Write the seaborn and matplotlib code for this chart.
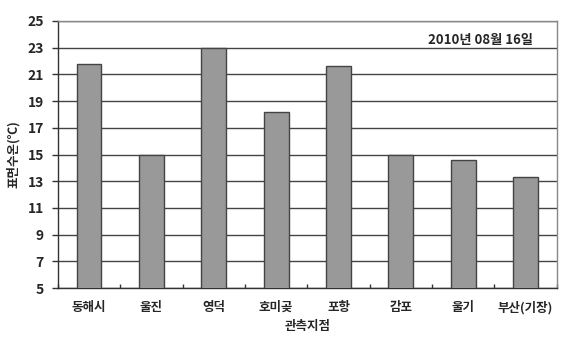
import matplotlib
matplotlib.use("Agg")
import matplotlib.pyplot as plt
import seaborn as sns
import pandas as pd
from matplotlib.ticker import MultipleLocator

stations = ["동해시", "울진", "영덕", "호미곶", "포항", "감포", "울기", "부산(기장)"]
temps = [21.8, 15.0, 23.0, 18.2, 21.6, 15.0, 14.6, 13.3]
yticks = [5, 7, 9, 11, 13, 15, 17, 19, 21, 23, 25]
date_label = "2010년 08월 16일"

sns.set_theme(style="white")
plt.rcParams['font.family'] = ['Noto Sans CJK KR', 'DejaVu Sans']

df = pd.DataFrame({"station": stations, "temp": temps})

fig = plt.figure(figsize=(5.67, 3.43), dpi=100)
ax = fig.add_axes([0.102, 0.160, 0.880, 0.779])

sns.barplot(data=df, x="station", y="temp", ax=ax, color="#999999",
            saturation=1, width=0.4, edgecolor="#444444", linewidth=1.0, zorder=3)

ax.set_ylim(5, 25)
ax.set_yticks(yticks)
ax.set_xlim(-0.5, len(stations) - 0.5)
ax.yaxis.grid(True, color="#444444", linewidth=1.0, zorder=0)
ax.set_axisbelow(True)

for s in ["left", "bottom"]:
    ax.spines[s].set_color("#333333")
    ax.spines[s].set_linewidth(1.0)
for s in ["top", "right"]:
    ax.spines[s].set_color("#888888")
    ax.spines[s].set_linewidth(1.0)

ax.tick_params(axis="y", left=True, length=4, width=1, color="#333333",
               labelsize=10, pad=6)
ax.tick_params(axis="x", bottom=False, labelsize=9, pad=3)
ax.xaxis.set_minor_locator(MultipleLocator(1, offset=0.5))
ax.tick_params(axis="x", which="minor", bottom=True, direction="in", length=3,
               width=1, color="#333333")

for lab in ax.get_yticklabels() + ax.get_xticklabels():
    lab.set_fontweight("bold")

ax.set_xlabel("관측지점", fontsize=9, fontweight="bold", labelpad=4)
ax.set_ylabel("표면수온(℃)", fontsize=9, fontweight="bold", labelpad=5)

ax.text(0.952, 0.955, date_label, transform=ax.transAxes, ha="right", va="top",
        fontsize=9.5, fontweight="bold")

fig.savefig("out.png", dpi=100)
